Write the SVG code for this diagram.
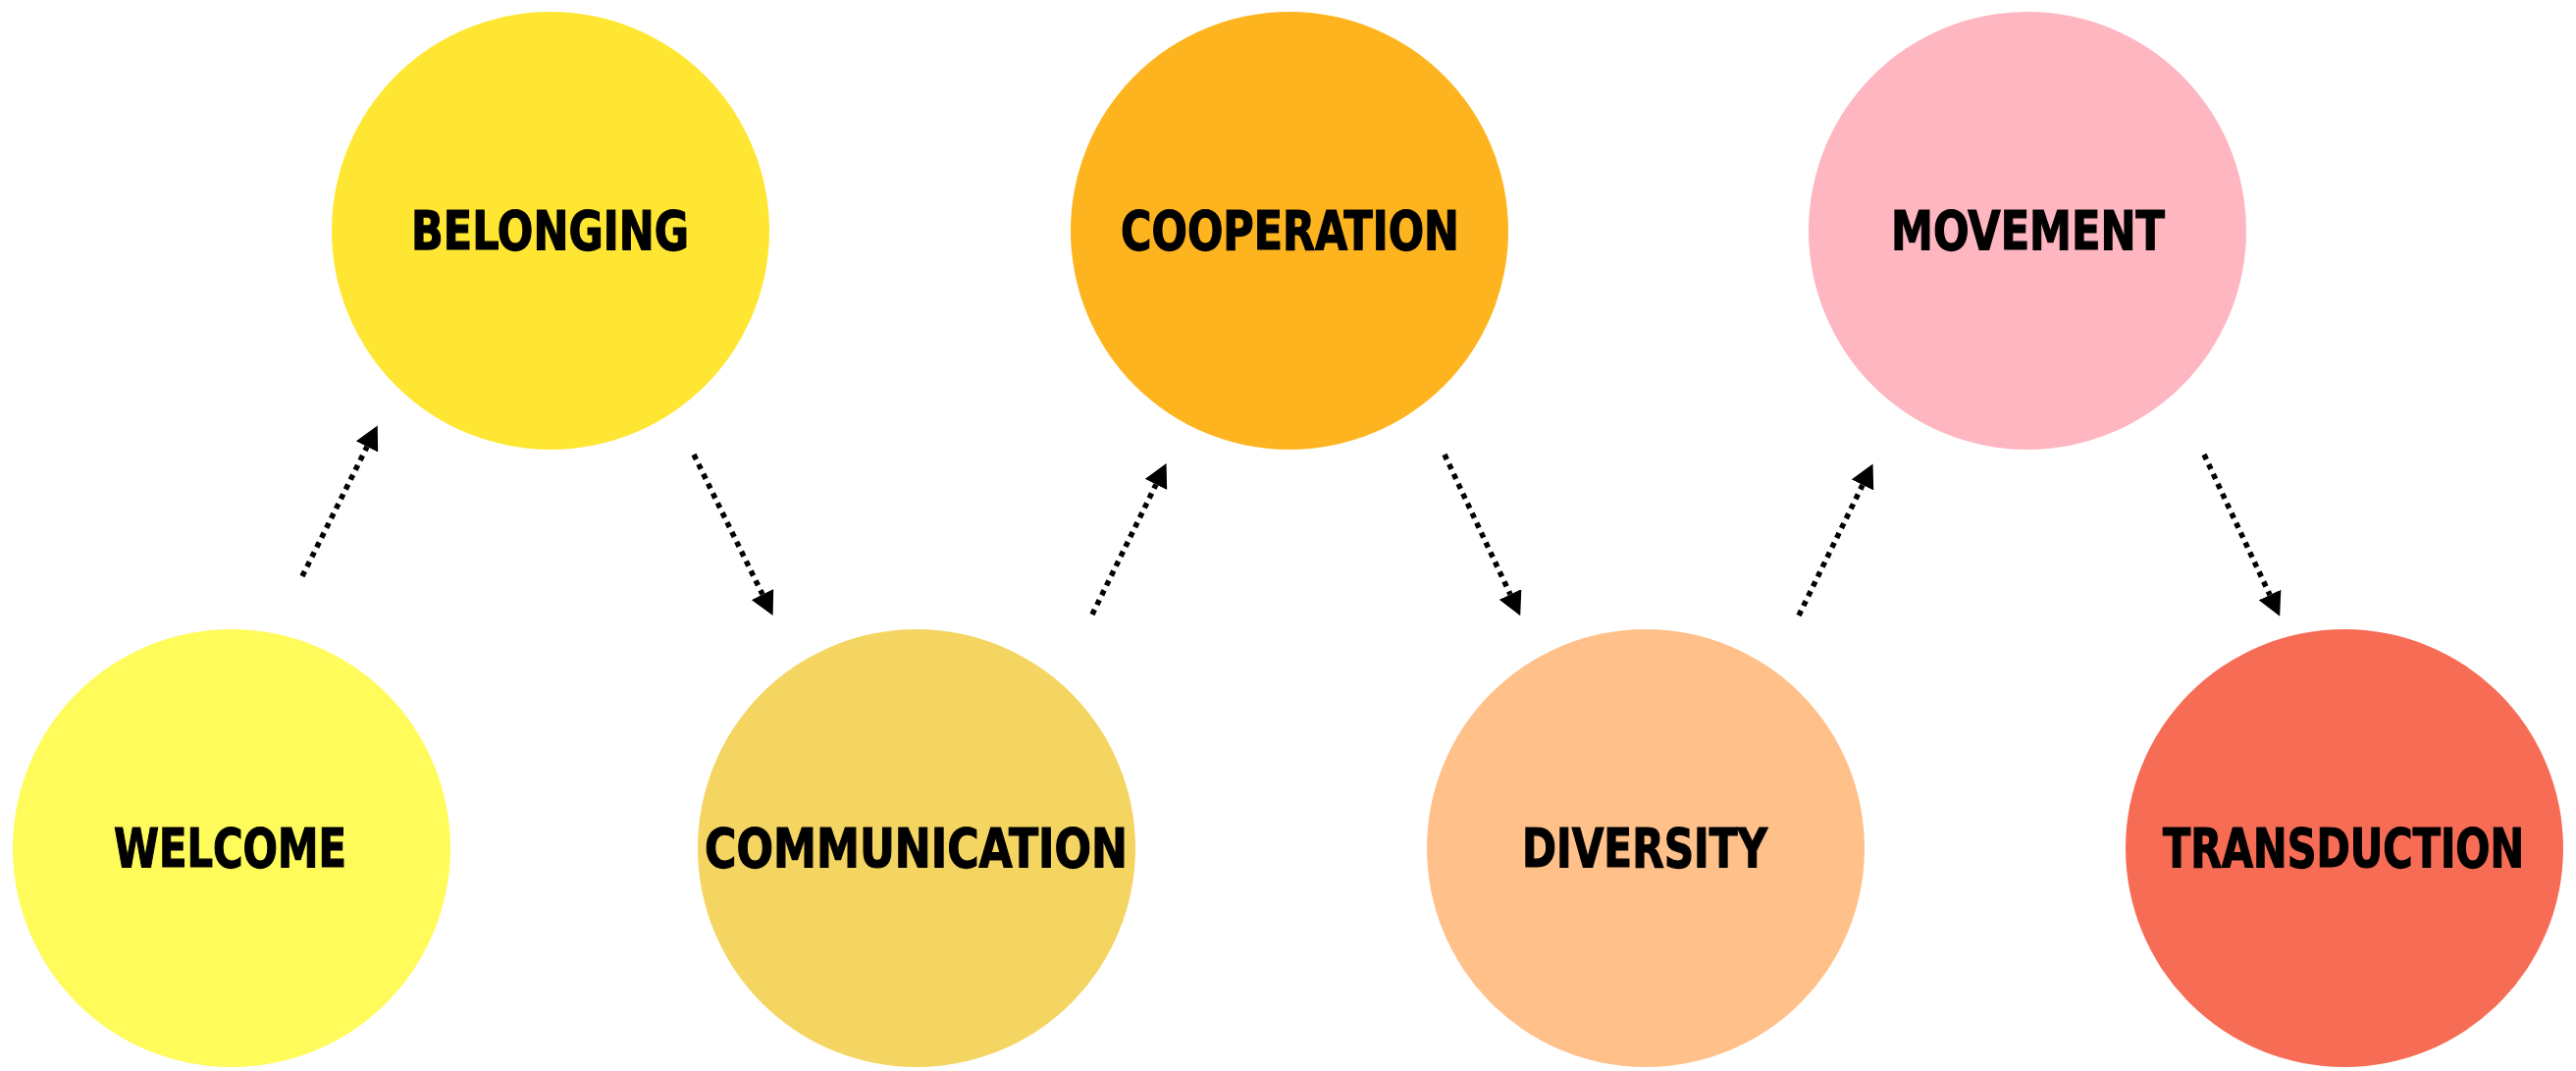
<svg xmlns="http://www.w3.org/2000/svg" width="2625" height="1091" viewBox="0 0 2625 1091">
<style>
.lbl{font-family:'Liberation Sans Narrow','DejaVu Sans Condensed','Liberation Sans',sans-serif;font-weight:bold;font-size:55px;fill:#000;stroke:#000;stroke-width:1.2;stroke-linejoin:miter}
.link{fill:none;stroke:#000;stroke-width:5.5;stroke-dasharray:5.5 5.5;marker-end:url(#head)}
</style>
<defs>
<marker id="head" viewBox="0 0 24 25" refX="0" refY="12.5" markerWidth="24" markerHeight="25" markerUnits="userSpaceOnUse" orient="auto">
<path d="M0,0 L24,12.5 L0,25 Z" fill="#000"/>
</marker>
</defs>
<rect width="2625" height="1091" fill="#fff"/>
<g id="welcome">
<circle cx="236" cy="864" r="223" fill="#FFFB5B"/>
<text class="lbl" x="116" y="883" textLength="237" lengthAdjust="spacingAndGlyphs">WELCOME</text>
</g>
<g id="belonging">
<circle cx="561" cy="235" r="223" fill="#FFE633"/>
<text class="lbl" x="419" y="254" textLength="283" lengthAdjust="spacingAndGlyphs">BELONGING</text>
</g>
<g id="communication">
<circle cx="934" cy="864" r="223" fill="#F4D562"/>
<text class="lbl" x="718" y="883" textLength="431" lengthAdjust="spacingAndGlyphs">COMMUNICATION</text>
</g>
<g id="cooperation">
<circle cx="1314" cy="235" r="223" fill="#FEB41F"/>
<text class="lbl" x="1142" y="254" textLength="345" lengthAdjust="spacingAndGlyphs">COOPERATION</text>
</g>
<g id="diversity">
<circle cx="1677" cy="864" r="223" fill="#FFC08A"/>
<text class="lbl" x="1551" y="883" textLength="250" lengthAdjust="spacingAndGlyphs">DIVERSITY</text>
</g>
<g id="movement">
<circle cx="2066" cy="235" r="223" fill="#FEB6C1"/>
<text class="lbl" x="1927" y="254" textLength="279" lengthAdjust="spacingAndGlyphs">MOVEMENT</text>
</g>
<g id="transduction">
<circle cx="2389" cy="864" r="223" fill="#F76C55"/>
<text class="lbl" x="2204" y="883" textLength="368" lengthAdjust="spacingAndGlyphs">TRANSDUCTION</text>
</g>
<g id="connectors">
<line class="link" x1="308" y1="587" x2="374" y2="455"/>
<line class="link" x1="707" y1="463" x2="777" y2="605.5"/>
<line class="link" x1="1113" y1="626" x2="1178" y2="493.5"/>
<line class="link" x1="1472" y1="463" x2="1539" y2="605.5"/>
<line class="link" x1="1833" y1="627" x2="1898" y2="494"/>
<line class="link" x1="2246" y1="463" x2="2313" y2="606"/>
</g>
</svg>
